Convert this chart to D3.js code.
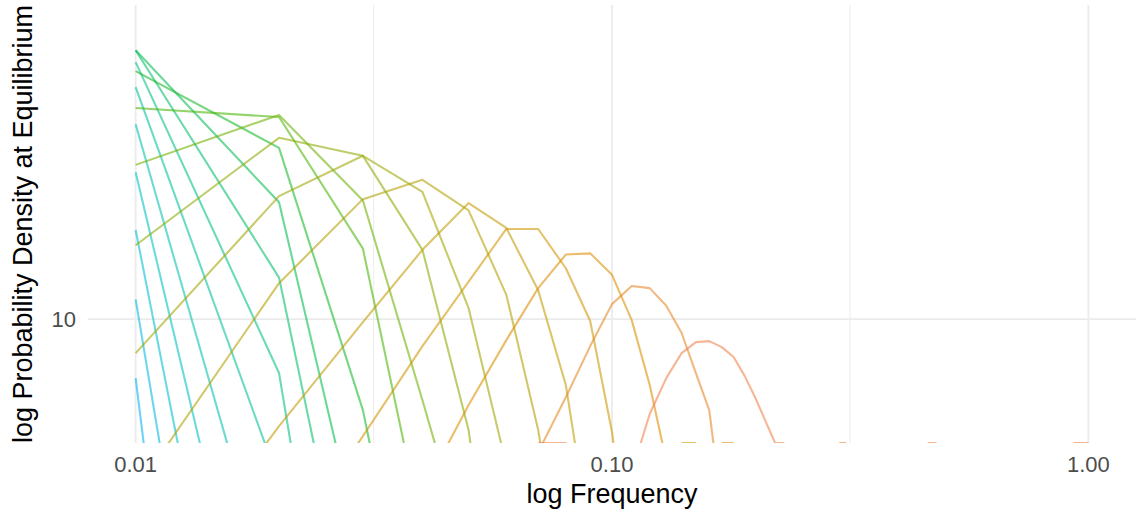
<!DOCTYPE html>
<html><head><meta charset="utf-8">
<script src="https://cdn.jsdelivr.net/npm/d3@7"></script>
<style>
body{margin:0;background:#fff}
text{font-family:"Liberation Sans",Arial,Helvetica,sans-serif}
</style>
</head><body>
<svg id="chart" width="1139" height="512"></svg>
<script>
// ---------- data ----------
const freq = [0.01,0.02,0.03,0.04,0.05,0.06,0.07,0.08,0.09,0.10,
0.11,0.12,0.13,0.14,0.15,0.16,0.17,0.18,0.19,0.20,
0.21,0.22,0.23,0.24,0.25,0.26,0.27,0.28,0.29,0.30,
0.31,0.32,0.33,0.34,0.35,0.36,0.37,0.38,0.39,0.40,
0.41,0.42,0.43,0.44,0.45,0.46,0.47,0.48,0.49,0.50,
0.51,0.52,0.53,0.54,0.55,0.56,0.57,0.58,0.59,0.60,
0.61,0.62,0.63,0.64,0.65,0.66,0.67,0.68,0.69,0.70,
0.71,0.72,0.73,0.74,0.75,0.76,0.77,0.78,0.79,0.80,
0.81,0.82,0.83,0.84,0.85,0.86,0.87,0.88,0.89,0.90,
0.91,0.92,0.93,0.94,0.95,0.96,0.97,0.98,0.99,1.00];

const xTicks = [0.01, 0.1, 1];
const xTickLabels = ["0.01", "0.10", "1.00"];
const xMinor = [0.0316, 0.316];
const yTicks = [10];
const yTickLabels = ["10"];

// density at each frequency (null = not drawn, 0 = zero density)
const c1  = [7.12, 0.0089];
const c2  = [11.2, 0.080];
const c3  = [16.7, 0.257];
const c4  = [23.3, 0.716];
const c5  = [30.7, 1.73];
const c6  = [38.0, 3.91, 0.198];
const c7  = [43.9, 7.33, 0.403];
const c8  = [47.0, 12.7, 1.27];
const c9  = [47.0, 19.6, 2.50];
const c10 = [41.7, 26.8, 5.92, 1.12];
const c11 = [33.7, 32.0, 15.0, 2.95];
const c12 = [24.3, 32.4, 19.8, 6.27, 2.50];
const c13 = [15.3, 28.4, 25.6, 14.9, 5.28, 1.12];
const c14 = [8.22, 20.3, 25.6, 20.8, 10.65, 4.32, 1.49];
const c15 = [3.72, 12.3, 19.95, 22.3, 18.7, 11.5, 5.28, 1.98];
const c16 = [1.77, 5.40, 9.83, 14.9, 19.5, 16.9, 11.8, 6.84, 2.80];
const c17 = [null, 2.48, 5.10, 8.56, 12.4, 16.8, 16.8, 13.4, 9.89, 5.22, 2.23, null, null, 0, 0];
const c18 = [null, null, 1.98, 3.69, 6.10, 8.86, 11.95, 14.5, 14.6, 12.9, 9.94, 6.84, 4.42, 2.50, null, null, 0, 0];
const c19 = [null, null, null, null, 1.77, 2.97, 4.65, 6.38, 8.56, 10.9, 12.1, 11.95, 10.8, 9.23, 7.33, 5.92, 3.35, 1.77,
  null, null, null, null, null, null, null, null, null, null, null, 0, 0];
const c20 = [null, null, null, null, null, null, 0, 0, 1.49, 2.50, 4.14, 5.79, 7.12, 8.22, 8.76, 8.81, 8.51, 8.04, 7.20, 6.35,
  5.56, 0, 0, null, null, null, null, null, null, null,
  null, null, null, null, null, null, null, null, null, null,
  null, null, null, null, null, 0, 0, 0, null, null,
  null, null, null, null, null, null, null, null, null, null,
  null, null, null, null, null, null, null, null, null, null,
  null, null, null, null, null, null, null, null, null, null,
  null, null, null, null, null, null, null, null, null, null,
  null, null, 0, 0, 0, 0, 0, 0, 0, 0];

const series = [c1,c2,c3,c4,c5,c6,c7,c8,c9,c10,c11,c12,c13,c14,c15,c16,c17,c18,c19,c20];

// ---------- layout ----------
const svg = d3.select("#chart");
const panel = {left: 88, right: 1136, top: 5, bottom: 443};
const x = d3.scaleLog().domain([Math.pow(10,-2.1), Math.pow(10,0.1)]).range([panel.left, panel.right]);
const y = d3.scaleLog().domain([4.9, 61]).range([panel.bottom, panel.top]);

// colour ramp (hue-like palette, blue -> salmon)
const anchors = [[225,"#00B4F0"],[210,"#00BBDB"],[195,"#00BFC4"],[180,"#00C1A9"],[165,"#00C08B"],
  [150,"#00BE67"],[135,"#00BA38"],[120,"#49B500"],[105,"#7CAE00"],[90,"#9DA700"],[75,"#B79F00"],
  [60,"#CD9600"],[45,"#DE8C00"],[30,"#EC823C"],[15,"#F8766D"]];
function hueColor(h){
  for(let i=0;i<anchors.length-1;i++){
    const [h0,c0]=anchors[i],[h1,c1_]=anchors[i+1];
    if(h<=h0 && h>=h1){ return d3.interpolateRgb(c0,c1_)((h0-h)/(h0-h1)); }
  }
  return anchors[anchors.length-1][1];
}
const n = series.length;
const colour = i => hueColor(225 - i*(225-26)/(n-1));

// grid
const g = svg.append("g");
g.selectAll("line.ymaj").data(yTicks).join("line")
  .attr("x1",panel.left).attr("x2",panel.right)
  .attr("y1",d=>y(d)).attr("y2",d=>y(d))
  .attr("stroke","#EBEBEB").attr("stroke-width",1.8);
g.selectAll("line.xmin").data(xMinor).join("line").attr("class","xmin")
  .attr("x1",d=>x(d)).attr("x2",d=>x(d))
  .attr("y1",panel.top).attr("y2",panel.bottom)
  .attr("stroke","#EBEBEB").attr("stroke-width",0.9);
g.selectAll("line.xmaj").data(xTicks).join("line").attr("class","xmaj")
  .attr("x1",d=>x(d)).attr("x2",d=>x(d))
  .attr("y1",panel.top).attr("y2",panel.bottom)
  .attr("stroke","#EBEBEB").attr("stroke-width",1.8);

// clip
svg.append("defs").append("clipPath").attr("id","clip")
  .append("rect").attr("x",panel.left).attr("y",panel.top)
  .attr("width",panel.right-panel.left).attr("height",panel.bottom-panel.top);

const line = d3.line()
  .defined(d => d.v !== null && d.v !== undefined)
  .x(d => x(d.f))
  .y(d => d.v === 0 ? panel.bottom : y(d.v));

const lg = svg.append("g").attr("clip-path","url(#clip)");
series.forEach((s,i)=>{
  const pts = s.map((v,j)=>({f:freq[j], v:v}));
  lg.append("path").datum(pts)
    .attr("d",line)
    .attr("fill","none")
    .attr("stroke",colour(i))
    .attr("stroke-opacity",0.58)
    .attr("stroke-width",2.1)
    .attr("stroke-linejoin","round");
});

// axes text
svg.selectAll("text.xt").data(xTicks).join("text").attr("class","xt")
  .attr("x",d=>x(d)).attr("y",472)
  .attr("text-anchor","middle").attr("font-size",22).attr("fill","#4D4D4D")
  .text((d,i)=>xTickLabels[i]);
svg.selectAll("text.yt").data(yTicks).join("text").attr("class","yt")
  .attr("x",76).attr("y",d=>y(d)).attr("dy","0.36em")
  .attr("text-anchor","end").attr("font-size",22).attr("fill","#4D4D4D")
  .text((d,i)=>yTickLabels[i]);

svg.append("text").attr("x",(panel.left+panel.right)/2).attr("y",503)
  .attr("text-anchor","middle").attr("font-size",27).attr("fill","#000")
  .text("log Frequency");
svg.append("text")
  .attr("transform",`translate(32,${(panel.top+panel.bottom)/2}) rotate(-90)`)
  .attr("text-anchor","middle").attr("font-size",27).attr("fill","#000")
  .text("log Probability Density at Equilibrium");
</script>
</body></html>
